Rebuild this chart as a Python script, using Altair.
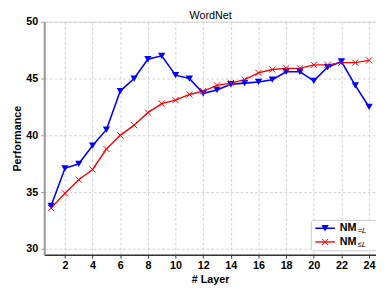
import altair as alt
import pandas as pd

layers = list(range(1, 25))
nm_eq = [33.8, 37.1, 37.5, 39.1, 40.5, 43.9, 45.0, 46.7, 47.0, 45.3, 45.0, 43.7,
         44.0, 44.5, 44.6, 44.7, 44.9, 45.6, 45.6, 44.8, 46.0, 46.5, 44.4, 42.5]
nm_le = [33.6, 34.9, 36.1, 37.0, 38.8, 40.0, 40.9, 42.0, 42.8, 43.1, 43.6, 43.9,
         44.4, 44.6, 44.9, 45.5, 45.8, 45.9, 45.9, 46.2, 46.2, 46.4, 46.4, 46.6]
x_ticks = list(range(2, 25, 2))
y_ticks = [30, 35, 40, 45, 50]

FONT = "Liberation Sans"
BLUE = "#0000ff"
RED = "#ff0000"
XMARK = "M-1,-1L1,1M-1,1L1,-1"

df_eq = pd.DataFrame({"layer": layers, "perf": nm_eq})
df_le = pd.DataFrame({"layer": layers, "perf": nm_le})

xs = alt.X("layer:Q", scale=alt.Scale(domain=[0.5, 24.5], nice=False, zero=False),
           axis=alt.Axis(values=x_ticks, title="# Layer", grid=True,
                         gridDash=[3, 2], gridColor="#c8c8c8", gridWidth=0.8,
                         domainColor="#333333", domainWidth=1.5,
                         tickColor="#333333", tickSize=3.5, labelPadding=2,
                         labelOverlap=False, labelSeparation=0,
                         labelFont=FONT, labelFontSize=11, labelFontWeight="bold",
                         labelColor="black", titleFont=FONT, titleFontSize=11,
                         titleFontWeight="bold", titleColor="black",
                         titleBaseline="top", titleY=19, labelFlush=False))
ys = alt.Y("perf:Q", scale=alt.Scale(domain=[29.5, 50], nice=False, zero=False),
           axis=alt.Axis(values=y_ticks, title="Performance", grid=True,
                         gridDash=[3, 2], gridColor="#c8c8c8", gridWidth=0.8,
                         domainColor="#999999", domainWidth=2,
                         tickColor="#999999", tickSize=3.5, labelPadding=3,
                         labelOverlap=False,
                         labelFont=FONT, labelFontSize=11, labelFontWeight="bold",
                         labelColor="black", titleFont=FONT, titleFontSize=11,
                         titleFontWeight="bold", titleColor="black",
                         titleX=-22, titleY=119, labelFlush=False))

line_eq = alt.Chart(df_eq).mark_line(color=BLUE, strokeWidth=1.6).encode(x=xs, y=ys)
pts_eq = alt.Chart(df_eq).mark_point(shape="triangle-down", filled=True, color=BLUE,
                                     size=55, opacity=1).encode(x=xs, y=ys)
line_le = alt.Chart(df_le).mark_line(color=RED, strokeWidth=1.4).encode(x=xs, y=ys)
pts_le = alt.Chart(df_le).mark_point(shape=XMARK, filled=False, color=RED, size=40,
                                     strokeWidth=1, opacity=1).encode(x=xs, y=ys)

one = alt.Data(values=[{"a": 1}])
title_txt = alt.Chart(one).mark_text(text="WordNet", font=FONT, fontSize=11,
                                     align="center", baseline="alphabetic",
                                     color="black").encode(x=alt.value(170), y=alt.value(-3))
leg_box = alt.Chart(one).mark_rect(fill="white", stroke="#cccccc", strokeWidth=1,
                                   cornerRadius=2).encode(
    x=alt.value(273), x2=alt.value(340), y=alt.value(203), y2=alt.value(234))
leg_l1 = alt.Chart(one).mark_rule(color=BLUE, strokeWidth=1.6).encode(
    x=alt.value(277), x2=alt.value(297), y=alt.value(211))
leg_p1 = alt.Chart(one).mark_point(shape="triangle-down", filled=True, color=BLUE,
                                   size=55, opacity=1).encode(x=alt.value(287), y=alt.value(211))
leg_l2 = alt.Chart(one).mark_rule(color=RED, strokeWidth=1.4).encode(
    x=alt.value(277), x2=alt.value(297), y=alt.value(225))
leg_p2 = alt.Chart(one).mark_point(shape=XMARK, filled=False, color=RED, size=40,
                                   strokeWidth=1, opacity=1).encode(x=alt.value(287), y=alt.value(225))
leg_t1 = alt.Chart(one).mark_text(text="NM", font=FONT, fontSize=11, fontWeight="bold",
                                  align="left", baseline="middle", color="black").encode(
    x=alt.value(302), y=alt.value(211))
leg_s1 = alt.Chart(one).mark_text(text="=L", font=FONT, fontSize=8, fontStyle="italic",
                                  align="left", baseline="middle", color="black").encode(
    x=alt.value(320), y=alt.value(214))
leg_t2 = alt.Chart(one).mark_text(text="NM", font=FONT, fontSize=11, fontWeight="bold",
                                  align="left", baseline="middle", color="black").encode(
    x=alt.value(302), y=alt.value(225))
leg_s2 = alt.Chart(one).mark_text(text="≤L", font=FONT, fontSize=8, fontStyle="italic",
                                  align="left", baseline="middle", color="black").encode(
    x=alt.value(320), y=alt.value(228))

chart = alt.layer(line_eq, line_le, pts_eq, pts_le, title_txt,
                  leg_box, leg_l1, leg_p1, leg_l2, leg_p2,
                  leg_t1, leg_s1, leg_t2, leg_s2).properties(
    width=339, height=238,
    autosize=alt.AutoSizeParams(type="none"),
    padding={"left": 37, "top": 11, "right": 0, "bottom": 31},
).configure_view(stroke=None).configure_axisX(labelOverlap=False).configure(background="white")

chart.save("out.html", embed_options={"renderer": "svg", "actions": False})
